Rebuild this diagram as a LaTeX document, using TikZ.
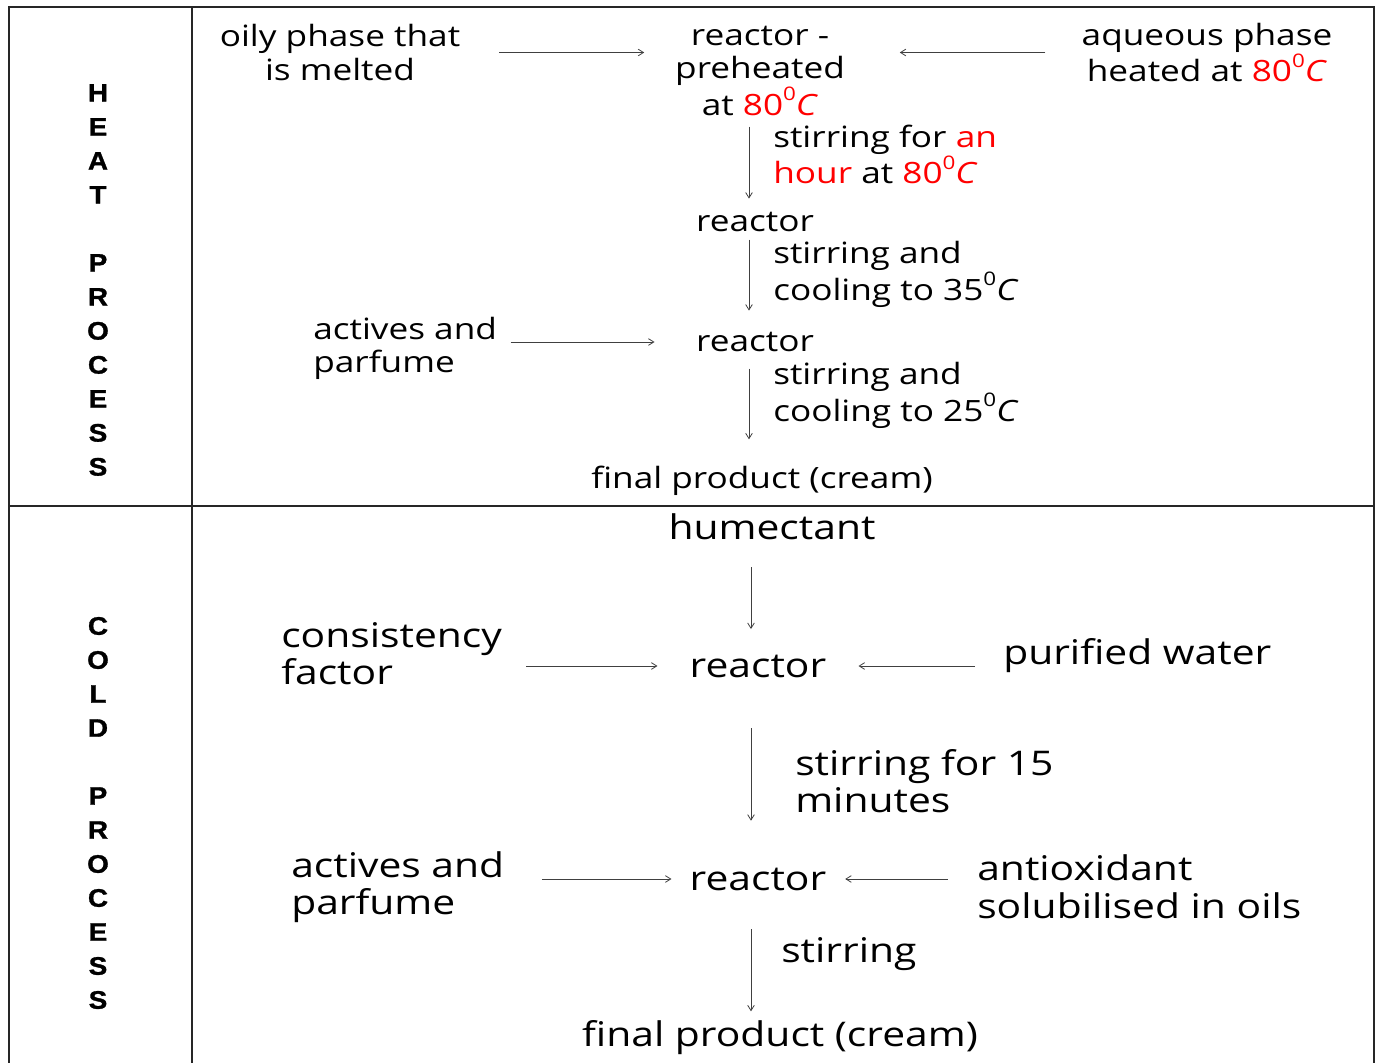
\documentclass[tikz,border=0pt]{standalone}
\usepackage{fontspec}
\setmainfont{Open Sans}[FakeStretch=1.2]
\newfontfamily\letterfont{Liberation Sans}[FakeStretch=1.1, BoldFeatures={FakeBold=1.2}]
\usetikzlibrary{arrows.meta}
\definecolor{redtxt}{RGB}{255,0,0}
\newcommand{\rd}[1]{\textcolor{redtxt}{#1}}
\newcommand{\dg}{\raisebox{0.5em}{\fontsize{14}{14}\selectfont 0}}
\begin{document}
\begin{tikzpicture}[x=0.75pt,y=-0.75pt,
  frame/.style={line width=1.1pt, draw=black!85},
  flow/.style={-{Straight Barb[length=4pt,width=5pt]}, line width=0.6pt, draw=black!75},
  ttext/.style={inner sep=0pt, align=center, font=\fontsize{22}{24.75}\selectfont},
  tleft/.style={ttext, align=left},
  btext/.style={inner sep=0pt, align=center, font=\fontsize{25.5}{28.2}\selectfont},
  bleft/.style={btext, align=left},
  side/.style={inner sep=0pt, align=center, font=\letterfont\bfseries\fontsize{19}{25.5}\selectfont}
]
\useasboundingbox (0,0) rectangle (1378,1063);
% frame
\draw[frame] (9,1063) -- (9,7) -- (1374,7) -- (1374,1063);
\draw[frame] (192,7) -- (192,1063);
\draw[frame] (9,506) -- (1374,506);
\coordinate (ax) at (749,0);
\coordinate (bx) at (751,0);
% side labels
\node[side] (heat) at (98,280) {H\\E\\A\\T\\\mbox{}\\P\\R\\O\\C\\E\\S\\S};
\node[side] (cold) at (98,813) {C\\O\\L\\D\\\mbox{}\\P\\R\\O\\C\\E\\S\\S};
% heat process
\node[ttext] (oily) at (340,52.5) {oily phase that\\is melted};
\node[ttext] (r1) at (760,71) {reactor -\\preheated\\at \rd{80\dg\textit{C}}};
\node[ttext] (aq) at (1207,52.5) {aqueous phase\\heated at \rd{80\dg\textit{C}}};
\node[tleft, anchor=west] (l1) at (773,154.5) {stirring for \rd{an}\\\rd{hour} at \rd{80\dg\textit{C}}};
\node[ttext] (r2) at (755,222) {reactor};
\node[tleft, anchor=west] (l2) at (773,274.5) {stirring and\\cooling to 35\dg\textit{C}};
\node[tleft, anchor=west] (act1) at (313,348) {actives and\\parfume};
\node[ttext] (r3) at (755,342) {reactor};
\node[tleft, anchor=west] (l3) at (773,395.5) {stirring and\\cooling to 25\dg\textit{C}};
\node[ttext] (fp1) at (762,481) {final product (cream)};
\draw[flow, shorten <=29pt, shorten >=23pt] (oily.east) -- (oily.east -| r1.west);
\draw[flow, shorten <=27pt, shorten >=41pt] (aq.west) -- (aq.west -| r1.east);
\draw[flow, shorten <=8pt, shorten >=10pt] (r1.south -| ax) -- (r2.north -| ax);
\draw[flow, shorten <=5.6pt, shorten >=16pt] (r2.south -| ax) -- (r3.north -| ax);
\draw[flow, shorten <=10pt, shorten >=31pt] (act1.east |- r3) -- (r3.west);
\draw[flow, shorten <=12.4pt, shorten >=20pt] (r3.south -| ax) -- (fp1.north -| ax);
% cold process
\node[btext] (hum) at (772,527) {humectant};
\node[bleft, anchor=west] (cons) at (281,653.5) {consistency\\factor};
\node[btext] (r4) at (758,666) {reactor};
\node[bleft, anchor=west] (pw) at (1003,656) {purified water};
\node[bleft, anchor=west] (l4) at (795,781) {stirring for 15\\minutes};
\node[bleft, anchor=west] (act2) at (291,887) {actives and\\parfume};
\node[btext] (r5) at (758,879) {reactor};
\node[bleft, anchor=west] (anti) at (977,887) {antioxidant\\solubilised in oils};
\node[bleft, anchor=west] (l5) at (781,954) {stirring};
\node[btext] (fp2) at (780,1038) {final product (cream)};
\draw[flow, shorten <=20pt, shorten >=19pt] (hum.south -| bx) -- (r4.north -| bx);
\draw[flow, shorten <=18pt, shorten >=24pt] (cons.east |- r4) -- (r4.west);
\draw[flow, shorten <=21pt, shorten >=24pt] (pw.west |- r4) -- (r4.east);
\draw[flow, shorten <=38pt, shorten >=35pt] (r4.south -| bx) -- (r5.north -| bx);
\draw[flow, shorten <=28pt, shorten >=13.5pt] (act2.east |- r5) -- (r5.west);
\draw[flow, shorten <=22pt, shorten >=14pt] (anti.west |- r5) -- (r5.east);
\draw[flow, shorten <=29pt, shorten >=7pt] (r5.south -| bx) -- (fp2.north -| bx);
\end{tikzpicture}
\end{document}
